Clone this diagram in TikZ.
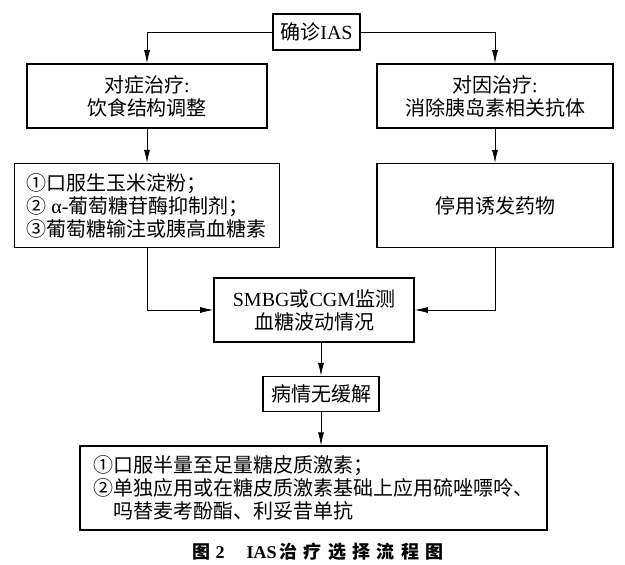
\documentclass[tikz,border=0pt]{standalone}
\usepackage{fontspec}
\setmainfont{Liberation Serif}
\newfontfamily\cjk{Noto Sans CJK SC}
\newfontfamily\lat{Liberation Serif}
\newfontfamily\capcjk[LetterSpace=35]{Noto Sans CJK SC}
\usepackage{tikz}
\usetikzlibrary{arrows.meta,positioning}
\tikzset{
  block/.style={
    rectangle,
    draw=black,
    line width=1.6pt,
    minimum height=64pt,
    inner sep=0pt,
    align=center,
    font=\cjk\fontsize{20}{23}\selectfont
  },
  arrow/.style={
    -{Latex[length=13pt,width=6pt]},
    line width=0.7pt
  }
}

\begin{document}
\begin{tikzpicture}[x=1pt,y=1pt]
\useasboundingbox (0,0) rectangle (625,-565);

\node[block, line width=2.4pt, minimum width=87pt, minimum height=36pt] (diag) at (316.5,-32) {确诊{\lat IAS}};

\node[block, minimum width=240pt] (sym) at (147,-96) {对症治疗{\lat :}\\饮食结构调整};
\node[block, minimum width=236pt] (cause) at (495,-96) {对因治疗{\lat :}\\消除胰岛素相关抗体};

\node[block, minimum width=265pt, minimum height=84pt, align=left, below=34pt of sym] (diet) {①口服生玉米淀粉；\\② {\lat α-}葡萄糖苷酶抑制剂；\\③葡萄糖输注或胰高血糖素};
\node[block, minimum width=236pt, minimum height=84pt, below=34pt of cause] (stop) {停用诱发药物};

\node[block, minimum width=200pt] (monitor) at (314,-310) {{\lat SMBG}或{\lat CGM}监测\\血糖波动情况};
\node[block, minimum width=116pt, minimum height=35pt, below=33pt of monitor, xshift=7pt] (relapse) {病情无缓解};
\node[block, minimum width=467pt, minimum height=84pt, align=left, below=33pt of relapse, xshift=-7.5pt] (final) {①口服半量至足量糖皮质激素；\\②单独应用或在糖皮质激素基础上应用硫唑嘌呤、\\\hspace*{1em}吗替麦考酚酯、利妥昔单抗};

% caption
\node[font=\fontsize{18}{20}\selectfont] (caption) at (318,-552) {{\capcjk\bfseries 图}\hspace{5pt}{\lat\bfseries 2}\hspace{22pt}{\lat\bfseries IAS}\hspace{3pt}{\capcjk\bfseries 治疗选择流程图}};

\draw[arrow] (diag.west) -| (sym.north);
\draw[arrow] (diag.east) -| (cause.north);
\draw[arrow] (sym) -- (diet);
\draw[arrow] (cause) -- (stop);
\draw[arrow] (diet.south) |- (monitor.west);
\draw[arrow] (stop.south) |- (monitor.east);
\draw[arrow] (monitor.south -| relapse.north) -- (relapse.north);
\draw[arrow] (relapse) -- (relapse.south |- final.north);

\end{tikzpicture}
\end{document}
